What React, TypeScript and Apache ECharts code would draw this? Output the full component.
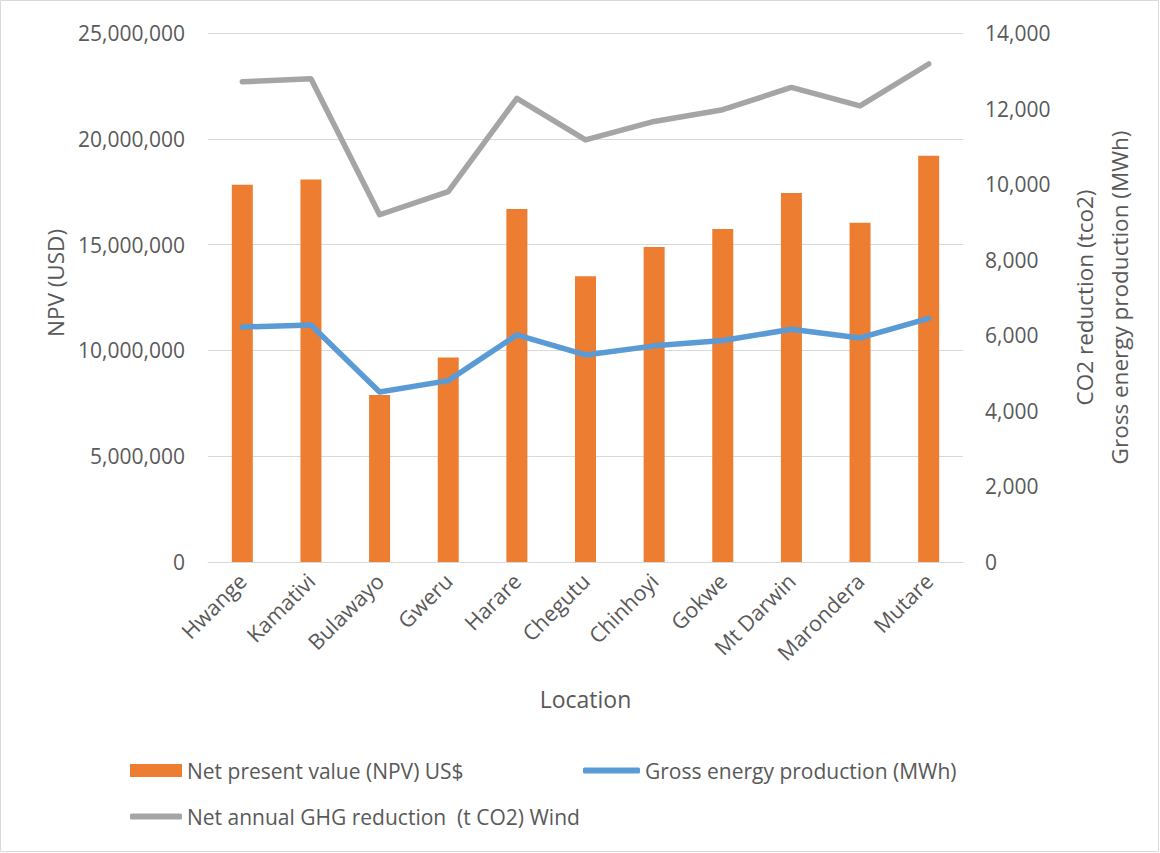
import React, { useEffect, useRef } from "react";
import * as echarts from "echarts";

const categories = ["Hwange", "Kamativi", "Bulawayo", "Gweru", "Harare", "Chegutu", "Chinhoyi", "Gokwe", "Mt Darwin", "Marondera", "Mutare"];
const npvValues = [17830000, 18080000, 7890000, 9670000, 16680000, 13500000, 14890000, 15740000, 17440000, 16030000, 19200000];
const grossEnergy = [6220, 6270, 4500, 4800, 6010, 5480, 5720, 5860, 6160, 5930, 6450];
const ghgReduction = [12710, 12790, 9190, 9800, 12270, 11170, 11660, 11970, 12560, 12070, 13180];
const leftTicks = { min: 0, max: 25000000, interval: 5000000 };
const rightTicks = { min: 0, max: 14000, interval: 2000 };

const FONT = "'Open Sans', 'Noto Sans', sans-serif";
const TXT = "#595959";

export default function App() {
  const ref = useRef<HTMLDivElement>(null);
  useEffect(() => {
    document.body.style.margin = "0";
    const chart = echarts.init(ref.current!, undefined, { renderer: "svg" });
    const fmt = (v: number) => v.toLocaleString("en-US");
    const legendText = { color: TXT, fontSize: 21, fontFamily: FONT };
    chart.setOption({
      animation: false,
      backgroundColor: "#ffffff",
      textStyle: { fontFamily: FONT },
      grid: { left: 208, right: 197, top: 33, bottom: 291, containLabel: false },
      graphic: [
        {
          type: "rect",
          shape: { x: 0.5, y: 0.5, width: 1158, height: 851 },
          style: { fill: "none", stroke: "#d9d9d9", lineWidth: 1 },
          silent: true,
        },
        {
          type: "text",
          x: 55,
          y: 283,
          rotation: Math.PI / 2,
          style: {
            text: "NPV (USD)",
            fill: TXT,
            fontSize: 22.5,
            fontFamily: FONT,
            textAlign: "center",
            textVerticalAlign: "middle",
          },
          silent: true,
        },
      ],
      legend: [
        {
          data: [{ name: "Net present value (NPV) US$", icon: "rect" }],
          left: 130, top: 760, padding: 0, itemWidth: 52, itemHeight: 13,
          textStyle: legendText,
        },
        {
          data: [{ name: "Gross energy production (MWh)", icon: "roundRect" }],
          left: 583, top: 760, padding: 0, itemWidth: 57, itemHeight: 6,
          textStyle: legendText,
        },
        {
          data: [{ name: "Net annual GHG reduction  (t CO2) Wind", icon: "roundRect" }],
          left: 130, top: 806, padding: 0, itemWidth: 52, itemHeight: 6,
          textStyle: legendText,
        },
      ],
      xAxis: {
        type: "category",
        data: categories,
        name: "Location",
        nameLocation: "middle",
        nameGap: 125,
        nameTextStyle: { color: TXT, fontSize: 23, fontFamily: FONT },
        axisLine: { lineStyle: { color: "#d9d9d9", width: 1 } },
        axisTick: { show: false },
        axisLabel: { rotate: 45, color: TXT, fontSize: 21.5, margin: 15, interval: 0, fontFamily: FONT },
      },
      yAxis: [
        {
          type: "value",
          min: leftTicks.min, max: leftTicks.max, interval: leftTicks.interval,
          axisLine: { show: false },
          axisTick: { show: false },
          axisLabel: { color: TXT, fontSize: 21, margin: 23, formatter: fmt, fontFamily: FONT },
          splitLine: { lineStyle: { color: "#d9d9d9", width: 1 } },
        },
        {
          type: "value",
          position: "right",
          min: rightTicks.min, max: rightTicks.max, interval: rightTicks.interval,
          name: "CO2 reduction (tco2)\nGross energy production (MWh)",
          nameLocation: "middle",
          nameRotate: 90,
          nameGap: 104,
          nameTextStyle: { color: TXT, fontSize: 22.5, lineHeight: 35, fontFamily: FONT },
          axisLine: { show: false },
          axisTick: { show: false },
          axisLabel: { color: TXT, fontSize: 21, margin: 22, formatter: fmt, fontFamily: FONT },
          splitLine: { show: false },
        },
      ],
      series: [
        {
          name: "Net present value (NPV) US$",
          type: "bar",
          data: npvValues,
          barWidth: 21,
          itemStyle: { color: "#ED7D31" },
          yAxisIndex: 0,
        },
        {
          name: "Gross energy production (MWh)",
          type: "line",
          data: grossEnergy,
          yAxisIndex: 1,
          symbol: "none",
          lineStyle: { color: "#5B9BD5", width: 5.5, cap: "round", join: "round" },
          itemStyle: { color: "#5B9BD5" },
        },
        {
          name: "Net annual GHG reduction  (t CO2) Wind",
          type: "line",
          data: ghgReduction,
          yAxisIndex: 1,
          symbol: "none",
          lineStyle: { color: "#A5A5A5", width: 5.5, cap: "round", join: "round" },
          itemStyle: { color: "#A5A5A5" },
        },
      ],
    });
    return () => chart.dispose();
  }, []);
  return <div ref={ref} style={{ width: 1160, height: 853 }} />;
}
